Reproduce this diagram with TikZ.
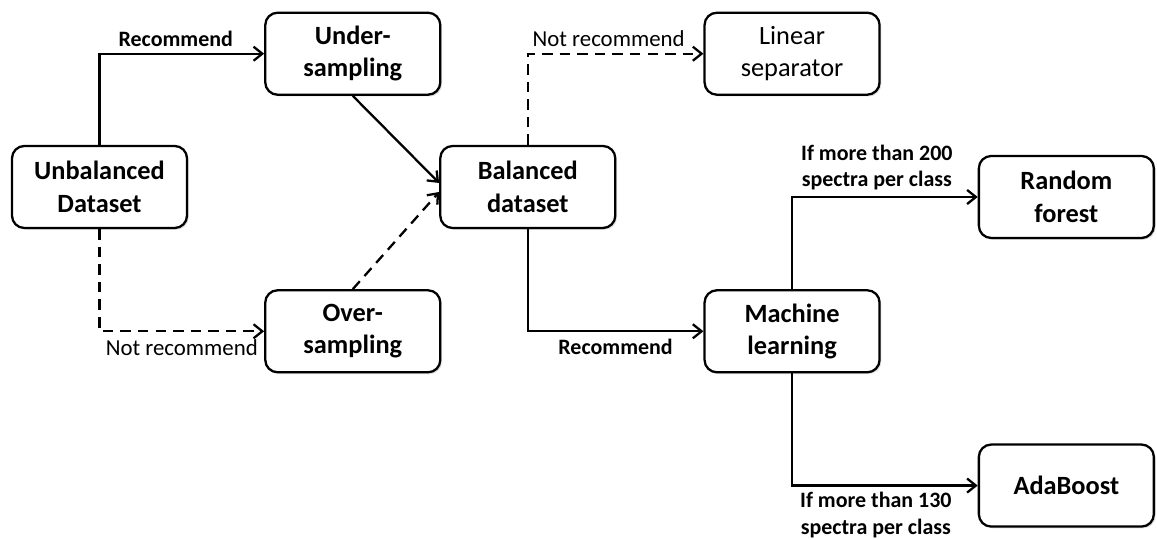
\documentclass[tikz,border=0pt]{standalone}
\usepackage{fontspec}
\setmainfont{Carlito}
\usepackage{tikz}
\usetikzlibrary{arrows.meta,positioning,shadows}

\begin{document}
\begin{tikzpicture}[
  box/.style={draw, line width=1.3pt, rounded corners=7pt, fill=white,
    minimum width=3.5cm, minimum height=1.64cm, align=center,
    font=\fontsize{15}{18.5}\selectfont\bfseries, inner sep=2pt,
    drop shadow={shadow xshift=1pt, shadow yshift=-1pt, opacity=0.25}},
  plainbox/.style={box, font=\fontsize{15}{18.5}\selectfont},
  arr/.style={-{Straight Barb[length=5pt, width=8pt]}, line width=1.3pt},
  dasharr/.style={arr, dash pattern=on 6pt off 4pt},
  yes/.style={font=\fontsize{12.5}{15}\selectfont\bfseries, align=center},
  no/.style={font=\fontsize{13}{15}\selectfont},
  node distance=1.2cm and 1.52cm
]
  \useasboundingbox (-1.99,3.74) rectangle (21.15,-7.06);

  % Sampling
  \node[box] (unbal) {Unbalanced\\Dataset};
  \node[box, above right=0.98cm and 1.52cm of unbal] (under) {Under-\\sampling};
  \node[box, below right=1.2cm and 1.52cm of unbal] (over) {Over-\\sampling};
  \node[box, right=5.02cm of unbal] (balanced) {Balanced\\dataset};

  % Classifiers
  \node[plainbox, above right=0.98cm and 1.74cm of balanced] (linear) {Linear\\separator};
  \node[box, below right=1.2cm and 1.74cm of balanced] (ml) {Machine\\learning};
  \node[box, above right=1.0cm and 1.94cm of ml] (forest) {Random\\forest};
  \node[box, below right=1.4cm and 1.94cm of ml] (ada) {AdaBoost};

  % Arrows
  \draw[arr] (unbal.north) |- (under.west)
    node[yes, pos=0.75, above, xshift=-0.12cm] {Recommend};
  \draw[dasharr] (unbal.south) |- (over.west)
    node[no, pos=0.75, below, yshift=-0.02cm] {Not recommend};
  \draw[arr] (under.south) -- ([yshift=0.08cm]balanced.west);
  \draw[dasharr] (over.north) -- ([yshift=-0.1cm]balanced.west);
  \draw[dasharr] (balanced.north) |- (linear.west)
    node[no, pos=0.75, above, xshift=-0.14cm] {Not recommend};
  \draw[arr] (balanced.south) |- (ml.west)
    node[yes, pos=0.75, below, yshift=-0.02cm] {Recommend};
  \draw[arr] (ml.north) |- (forest.west)
    node[yes, pos=0.75, above, xshift=-0.16cm] {If more than 200\\spectra per class};
  \draw[arr] (ml.south) |- (ada.west)
    node[yes, pos=0.75, below, xshift=-0.18cm] {If more than 130\\spectra per class};
\end{tikzpicture}
\end{document}
